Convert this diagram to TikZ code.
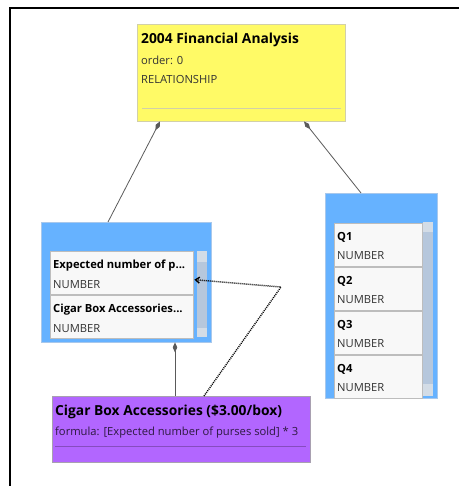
\documentclass[tikz,border=0pt]{standalone}
\usepackage{fontspec}
\setmainfont{Open Sans}
\usetikzlibrary{calc,arrows.meta}
\definecolor{cardyellow}{HTML}{FFFA66}
\definecolor{yellowline}{HTML}{D2D0A8}
\definecolor{tableblue}{HTML}{66B2FF}
\definecolor{tableline}{HTML}{A8C8EC}
\definecolor{cardpurple}{HTML}{B266FF}
\definecolor{purpleline}{HTML}{A8A0B0}
\definecolor{rowfill}{HTML}{F8F8F8}
\definecolor{rowline}{HTML}{BDBDBD}
\definecolor{trackfill}{HTML}{D3DCE6}
\definecolor{thumbfill}{HTML}{B6C7DC}
\definecolor{linkgray}{HTML}{5A5A5A}
\tikzset{>=latex}
\tikzset{
  card/.style  = {draw, anchor=north west, inner sep=0pt},
  table/.style = {draw=tableline, fill=tableblue, anchor=north west, inner sep=0pt},
  row/.style   = {draw=rowline, fill=rowfill, anchor=north west, inner sep=0pt},
  track/.style = {fill=trackfill, anchor=north west, inner sep=0pt},
  thumb/.style = {fill=thumbfill, anchor=north west, inner sep=0pt},
  title/.style = {anchor=base west, inner sep=0pt, font=\fontsize{13.8}{16}\selectfont\bfseries},
  info/.style  = {anchor=base west, inner sep=0pt, text=black!80, font=\fontsize{11.2}{13}\selectfont},
  field/.style = {anchor=base west, inner sep=0pt, font=\fontsize{11.2}{13}\selectfont\bfseries},
  link/.style  = {draw=linkgray, line width=0.8pt}
}

\begin{document}
\begin{tikzpicture}[x=1pt,y=-1pt]
  \useasboundingbox (0,0) rectangle (459,486);
  \draw[line width=2pt] (10,486) -- (10,8) -- (459,8);
  % analysis card
  \node (fin) at (137,24) [card, draw=yellowline, fill=cardyellow, minimum width=208pt, minimum height=97pt] {};
  \node (finname) at (141,44) [title] {2004 Financial Analysis};
  \node (finorder) at (141,65) [info] {order: 0};
  \node (finkind) at (141,84) [info] {RELATIONSHIP};
  \draw[yellowline] ($(fin.south west)+(5,-13)$) -- ($(fin.south east)+(-4,-13)$);
  % left table
  \node (sales) at (41,222) [table, minimum width=170pt, minimum height=120pt] {};
  \node (sales1) at (50,251) [row, minimum width=143pt, minimum height=43pt] {};
  \node (sales2) at (50,295) [row, minimum width=143pt, minimum height=43pt] {};
  \node (salesbar) at (197,251) [track, minimum width=10pt, minimum height=86pt] {};
  \node (salesthumb) at (197,262) [thumb, minimum width=10pt, minimum height=66pt] {};
  \node (sales1name) at (53,268) [field] {Expected number of p...};
  \node (sales1type) at (53,288) [info] {NUMBER};
  \node (sales2name) at (53,312) [field] {Cigar Box Accessories...};
  \node (sales2type) at (53,332) [info] {NUMBER};
  % right table
  \node (quarters) at (325,193) [table, minimum width=112pt, minimum height=205pt] {};
  \node (quartersbar) at (423,222) [track, minimum width=10pt, minimum height=174pt] {};
  \node (quartersthumb) at (423,232) [thumb, minimum width=10pt, minimum height=152pt] {};
  \foreach \i/\y in {1/223,2/267,3/311,4/355} {
    \node (q\i) at (334,\y) [row, minimum width=88pt, minimum height=43pt] {};
    \node (q\i name) at (337,\y+17) [field] {Q\i};
    \node (q\i type) at (337,\y+36) [info] {NUMBER};
  }
  % formula card
  \node (cigar) at (52,396) [card, draw=purpleline, fill=cardpurple, minimum width=258pt, minimum height=66pt] {};
  \node (cigarname) at (55,415) [title] {Cigar Box Accessories (\$3.00/box)};
  \node (cigarformula) at (55,435) [info, text=black!75!cardpurple] {formula: [Expected number of purses sold] * 3};
  \draw[black!25!cardpurple] ($(cigar.south west)+(3,-16)$) -- ($(cigar.south east)+(-4,-16)$);
  % connectors
  \draw[link, {Diamond[length=10pt,width=4.5pt]}-] ($(fin.south west)+(23,0)$) -- ($(sales.north west)+(67,0)$);
  \draw[link, {Diamond[length=10pt,width=4.5pt]}-] ($(fin.south west)+(167,0)$) -- ($(quarters.north west)+(36,0)$);
  \draw[link, {Diamond[length=10pt,width=4.5pt]}-] ($(sales.south west)+(134,0)$) -- ($(cigar.north west)+(123,0)$);
  \coordinate (bend) at (281,287);
  \draw[line width=1.4pt, dash pattern=on 1pt off 1pt, -{Straight Barb[length=4pt,width=6pt]}] ($(cigar.north west)+(152,0)$) -- (bend) -- ($(sales1.east)+(1,7)$);
\end{tikzpicture}
\end{document}
